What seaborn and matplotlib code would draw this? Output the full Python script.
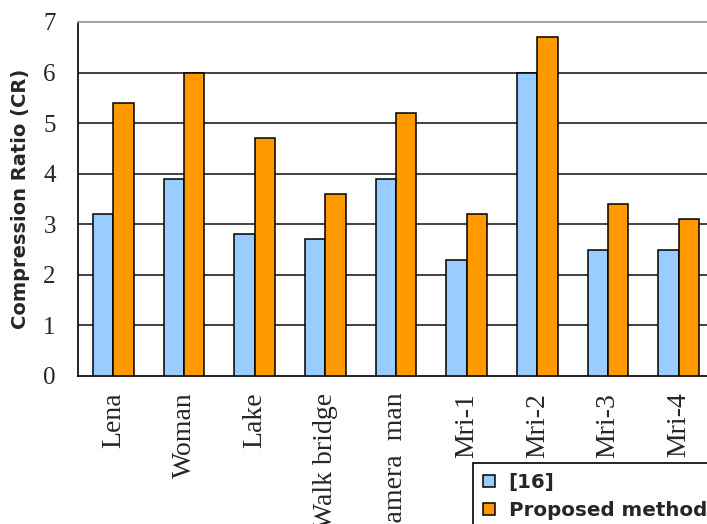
import matplotlib
matplotlib.use("Agg")
import matplotlib.pyplot as plt
import seaborn as sns
import pandas as pd
import numpy as np
from matplotlib.ticker import FixedLocator

images = ["Lena", "Woman", "Lake", "Walk bridge", "Camera  man",
          "Mri-1", "Mri-2", "Mri-3", "Mri-4"]
ref16 = [3.2, 3.9, 2.8, 2.7, 3.9, 2.3, 6.0, 2.5, 2.5]
proposed = [5.4, 6.0, 4.7, 3.6, 5.2, 3.2, 6.7, 3.4, 3.1]
series_names = ["[16]", "Proposed method"]
yticks = [0, 1, 2, 3, 4, 5, 6, 7]
colors = ["#99CCFF", "#FF9900"]

df = pd.DataFrame({
    "image": images * 2,
    "method": [series_names[0]] * len(images) + [series_names[1]] * len(images),
    "CR": ref16 + proposed,
})

sns.set_style("white")
fig = plt.figure(figsize=(7.07, 5.24), dpi=100)
ax = fig.add_axes([78 / 707, (524 - 376) / 524, (714 - 78) / 707, (376 - 22) / 524])

sns.barplot(data=df, x="image", y="CR", hue="method", palette=colors,
            width=0.58, edgecolor="black", linewidth=1.1, errorbar=None,
            saturation=1, ax=ax, zorder=3)

ax.set_ylim(0, 7)
ax.set_xlim(-0.5, len(images) - 0.5)
ax.set_yticks(yticks)
ax.set_yticklabels([str(t) for t in yticks], fontsize=18, family="Liberation Serif")
ax.set_xticks(range(len(images)))
ax.set_xticklabels(images, rotation=90, fontsize=20, family="Liberation Serif",
                   va="top", ha="center")
ax.xaxis.set_minor_locator(FixedLocator(np.arange(-0.5, len(images), 1.0)))
ax.tick_params(axis="x", which="major", length=0, pad=12)
ax.tick_params(axis="x", which="minor", length=8, width=1.2, color="black", direction="out")
ax.tick_params(axis="y", which="major", length=8, width=1.2, color="black",
               direction="out", pad=8)

ax.set_xlabel("")
ax.set_ylabel("Compression Ratio (CR)", fontsize=14, fontweight="bold",
              family="DejaVu Sans")
ax.yaxis.set_label_coords(-0.076, 0.5)

for y in yticks[1:-1]:
    ax.axhline(y, color="#222222", linewidth=1.2, zorder=1)
ax.spines["left"].set_color("black")
ax.spines["left"].set_linewidth(1.2)
ax.spines["bottom"].set_color("black")
ax.spines["bottom"].set_linewidth(1.2)
ax.spines["top"].set_color("#999999")
ax.spines["top"].set_linewidth(1.3)
ax.spines["right"].set_visible(False)

handles, labels = ax.get_legend_handles_labels()
if ax.legend_:
    ax.legend_.remove()
leg = fig.legend(handles, labels, loc="upper left",
                 bbox_to_anchor=(473 / 707, 1 - 463 / 524),
                 bbox_transform=fig.transFigure, frameon=True, fancybox=False,
                 framealpha=1, edgecolor="black", borderaxespad=0,
                 handlelength=0.6, handleheight=0.6, handletextpad=0.7,
                 borderpad=0.5, labelspacing=0.45,
                 prop={"family": "DejaVu Sans", "weight": "bold", "size": 14.3})
leg.get_frame().set_linewidth(1.2)

fig.savefig("out.png", dpi=100)
